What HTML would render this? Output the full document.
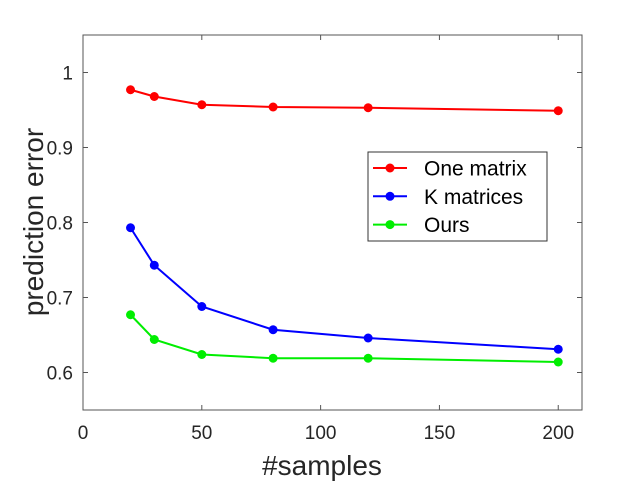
<!DOCTYPE html>
<html><head><meta charset="utf-8"><style>
body{margin:0;background:#fff;width:642px;height:481px;overflow:hidden}
svg{font-family:"Liberation Sans",sans-serif}
</style></head><body>
<svg id="chart" width="642" height="481">
<rect width="642" height="481" fill="#fff"/>
<g id="axes"></g>
<g id="series"></g>
<text x="322" y="475" font-size="28" text-anchor="middle" fill="#262626">#samples</text>
<text transform="translate(43,222) rotate(-90)" font-size="28" text-anchor="middle" fill="#262626">prediction error</text>
<g id="legend">
<rect x="368" y="152" width="179" height="89" fill="#fff" stroke="#333" stroke-width="1"/>
</g>
</svg>
<script>
const xValues=[20,30,50,80,120,200];
const oneMatrix=[0.977,0.968,0.957,0.954,0.953,0.949];
const kMatrices=[0.793,0.743,0.688,0.657,0.646,0.631];
const ours=[0.677,0.644,0.624,0.619,0.619,0.614];
const seriesNames=["One matrix","K matrices","Ours"];
const xTicks=[0,50,100,150,200];
const yTicks=[0.6,0.7,0.8,0.9,1];
const yTickLabels=["0.6","0.7","0.8","0.9","1"];
const NS="http://www.w3.org/2000/svg";
const L=83,R=582,T=35,B=410,XMIN=0,XMAX=210,YMIN=0.55,YMAX=1.05;
const sx=v=>L+(v-XMIN)/(XMAX-XMIN)*(R-L);
const sy=v=>B-(v-YMIN)/(YMAX-YMIN)*(B-T);
function mk(t,a,p){const e=document.createElementNS(NS,t);for(const k in a)e.setAttribute(k,a[k]);p.appendChild(e);return e;}
const ax=document.getElementById('axes');
const frame=mk('rect',{x:L,y:T,width:R-L,height:B-T,fill:'none',stroke:'#555','stroke-width':1},ax);


xTicks.forEach(v=>{
 mk('line',{x1:sx(v),x2:sx(v),y1:B,y2:B-5,stroke:'#555'},ax);
 mk('line',{x1:sx(v),x2:sx(v),y1:T,y2:T+5,stroke:'#555'},ax);
 const t=mk('text',{x:sx(v),y:B+29,'font-size':19,'text-anchor':'middle',fill:'#262626'},ax);
 t.textContent=v;
 
 
});
yTicks.forEach((v,i)=>{
 mk('line',{x1:L,x2:L+5,y1:sy(v),y2:sy(v),stroke:'#555'},ax);
 mk('line',{x1:R,x2:R-5,y1:sy(v),y2:sy(v),stroke:'#555'},ax);
 const t=mk('text',{x:L-10,y:sy(v)+7,'font-size':19,'text-anchor':'end',fill:'#262626'},ax);
 t.textContent=yTickLabels[i];
 
 
});
const sg=document.getElementById('series');
const colors=['#ff0000','#0000ff','#00ee00'];
[oneMatrix,kMatrices,ours].forEach((d,si)=>{
 const g=mk('g',{},sg);
 
 
 mk('polyline',{points:d.map((v,i)=>sx(xValues[i])+','+sy(v)).join(' '),fill:'none',stroke:colors[si],'stroke-width':2},g);
 d.forEach((v,i)=>{
  const c=mk('circle',{cx:sx(xValues[i]),cy:sy(v),r:4.5,fill:colors[si]},g);
  
  
 });
});
const lg=document.getElementById('legend');
seriesNames.forEach((n,i)=>{
 const y=168+i*28.3;
 mk('line',{x1:373,x2:407,y1:y,y2:y,stroke:colors[i],'stroke-width':2},lg);
 mk('circle',{cx:390,cy:y,r:4.5,fill:colors[i]},lg);
 const t=mk('text',{x:424,y:y+7.5,'font-size':21,fill:'#000'},lg);
 t.textContent=n;
 
 
});
</script>
</body></html>
